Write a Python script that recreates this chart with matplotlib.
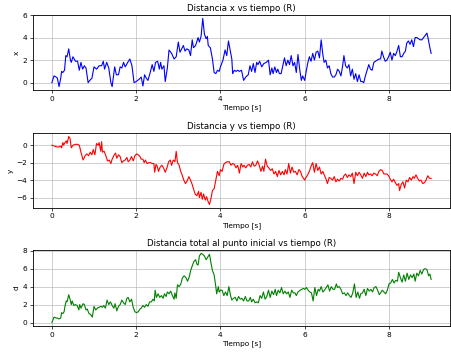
import matplotlib
matplotlib.use("Agg")
import matplotlib.pyplot as plt

# lecturas aproximadas del grafico original
t_x = [0.0, 0.05, 0.1, 0.13, 0.17, 0.21, 0.23, 0.26, 0.3, 0.33, 0.36, 0.4, 0.44, 0.46, 0.5, 0.56, 0.61, 0.65, 0.69, 0.73,
       0.77, 0.81, 0.86, 0.9, 0.95, 1.0, 1.06, 1.12, 1.18, 1.22, 1.25, 1.3, 1.35, 1.4, 1.43, 1.49, 1.53, 1.58, 1.62, 1.66,
       1.7, 1.74, 1.8, 1.85, 1.9, 1.95, 2.0, 2.07, 2.12, 2.16, 2.2, 2.24, 2.28, 2.34, 2.38, 2.42, 2.46, 2.51, 2.55, 2.58,
       2.61, 2.66, 2.69, 2.74, 2.78, 2.84, 2.9, 2.95, 3.0, 3.04, 3.08, 3.12, 3.16, 3.2, 3.25, 3.29, 3.33, 3.36, 3.41, 3.47,
       3.5, 3.54, 3.58, 3.62, 3.66, 3.69, 3.71, 3.76, 3.81, 3.85, 3.89, 3.93, 3.97, 4.0, 4.06, 4.11, 4.15, 4.19, 4.23, 4.27,
       4.29, 4.33, 4.37, 4.41, 4.45, 4.5, 4.55, 4.6, 4.66, 4.7, 4.74, 4.78, 4.82, 4.86, 4.89, 4.93, 4.98, 5.03, 5.09, 5.14,
       5.18, 5.22, 5.25, 5.29, 5.33, 5.36, 5.4, 5.44, 5.48, 5.52, 5.56, 5.6, 5.64, 5.68, 5.72, 5.76, 5.8, 5.84, 5.88, 5.92,
       5.95, 6.0, 6.03, 6.07, 6.11, 6.15, 6.19, 6.23, 6.27, 6.31, 6.35, 6.39, 6.43, 6.46, 6.5, 6.54, 6.58, 6.62, 6.66, 6.7,
       6.74, 6.78, 6.82, 6.86, 6.9, 6.93, 6.97, 7.01, 7.05, 7.09, 7.13, 7.17, 7.21, 7.25, 7.29, 7.33, 7.37, 7.4, 7.44, 7.48,
       7.52, 7.56, 7.6, 7.64, 7.68, 7.72, 7.76, 7.8, 7.83, 7.87, 7.91, 7.95, 7.99, 8.03, 8.07, 8.11, 8.15, 8.19, 8.23, 8.27,
       8.31, 8.35, 8.39, 8.42, 8.46, 8.5, 8.54, 8.58, 8.62, 8.66, 8.7, 8.74, 8.78, 8.82, 8.86, 8.9, 8.93, 8.97, 9.0]
x = [0.0, 0.6, 0.5, 0.4, -0.35, 0.4, 1.0, 0.9, 1.1, 2.4, 2.3, 3.0, 2.0, 1.8, 2.3, 1.9, 1.9, 1.1, 1.8, 1.2,
     1.5, 1.3, 0.0, 0.2, 0.4, 1.4, 1.2, 1.5, 1.5, 1.9, 1.2, 1.8, 1.3, 0.0, -0.35, 1.4, 0.7, 0.7, 1.4, 1.3,
     1.8, 1.4, 1.8, 2.1, 1.5, 0.0, 0.1, 0.3, 0.5, -0.3, 0.7, 0.4, 0.2, 1.0, 1.6, 1.0, 1.8, 1.9, 1.2, 1.8,
     1.2, 1.5, 0.1, 1.3, 2.9, 2.6, 2.1, 2.3, 3.6, 2.7, 3.0, 3.3, 2.8, 3.0, 2.9, 2.4, 3.8, 3.1, 3.3, 4.0,
     3.6, 4.1, 5.7, 4.3, 3.9, 4.1, 3.3, 3.1, 2.1, 0.9, 0.8, 1.1, 1.0, 1.4, 2.0, 2.9, 2.4, 3.7, 2.9, 2.1,
     0.8, 1.1, 1.0, 1.1, 1.0, 1.1, 0.2, 0.5, 0.7, 1.5, 1.0, 1.7, 0.9, 1.8, 1.6, 1.9, 1.4, 1.7, 1.8, 2.0,
     0.7, 1.3, 0.8, 1.4, 0.9, 1.2, 0.8, 0.8, 1.5, 2.2, 1.5, 2.0, 1.6, 2.4, 1.5, 1.8, 0.9, 2.5, 1.2, 0.2,
     0.6, 0.2, 0.9, 1.7, 2.3, 1.9, 2.6, 2.0, 2.7, 2.8, 2.2, 3.8, 2.5, 1.8, 2.0, 1.3, 1.5, 0.8, 0.5, 0.5,
     0.7, 1.2, 1.0, 0.6, 1.5, 2.4, 1.5, 1.3, 1.6, 0.6, 1.2, 0.3, 0.8, 0.1, 0.7, 0.1, 0.1, 0.0, 0.6, 1.1,
     1.6, 1.2, 1.1, 1.8, 1.9, 2.0, 2.1, 2.1, 2.8, 2.3, 1.9, 2.0, 2.3, 2.7, 2.0, 2.6, 2.4, 2.8, 3.3, 2.3,
     2.3, 2.6, 2.8, 3.5, 3.7, 3.4, 3.8, 3.2, 4.0, 4.0, 3.9, 3.8, 3.8, 4.0, 4.2, 4.4, 3.9, 3.1, 2.6]

t_y = [0.0, 0.06, 0.12, 0.17, 0.21, 0.23, 0.26, 0.28, 0.31, 0.34, 0.36, 0.4, 0.43, 0.46, 0.5, 0.56, 0.61, 0.65, 0.69, 0.74,
       0.79, 0.83, 0.87, 0.91, 0.95, 0.98, 1.02, 1.06, 1.1, 1.12, 1.16, 1.18, 1.2, 1.24, 1.28, 1.32, 1.36, 1.4, 1.43, 1.47,
       1.51, 1.54, 1.58, 1.62, 1.66, 1.7, 1.74, 1.78, 1.81, 1.85, 1.89, 1.93, 1.97, 2.01, 2.05, 2.09, 2.12, 2.16, 2.19, 2.22,
       2.26, 2.3, 2.34, 2.38, 2.42, 2.44, 2.47, 2.5, 2.53, 2.57, 2.61, 2.65, 2.69, 2.73, 2.77, 2.81, 2.84, 2.88, 2.92, 2.95,
       2.98, 3.02, 3.05, 3.09, 3.13, 3.17, 3.21, 3.25, 3.29, 3.33, 3.36, 3.4, 3.44, 3.48, 3.5, 3.54, 3.57, 3.6, 3.64, 3.67,
       3.71, 3.74, 3.78, 3.81, 3.85, 3.89, 3.93, 3.97, 4.0, 4.04, 4.08, 4.12, 4.16, 4.21, 4.25, 4.29, 4.33, 4.37, 4.41, 4.45,
       4.49, 4.53, 4.56, 4.6, 4.64, 4.68, 4.72, 4.76, 4.8, 4.84, 4.88, 4.92, 4.96, 5.0, 5.03, 5.07, 5.11, 5.15, 5.19, 5.23,
       5.27, 5.31, 5.35, 5.39, 5.43, 5.47, 5.51, 5.54, 5.58, 5.62, 5.66, 5.7, 5.74, 5.78, 5.82, 5.86, 5.9, 5.94, 6.0, 6.03,
       6.07, 6.11, 6.15, 6.19, 6.23, 6.27, 6.31, 6.35, 6.39, 6.43, 6.47, 6.5, 6.54, 6.58, 6.62, 6.66, 6.7, 6.74, 6.78, 6.82,
       6.86, 6.9, 6.93, 6.97, 7.01, 7.05, 7.09, 7.13, 7.17, 7.21, 7.25, 7.29, 7.33, 7.37, 7.41, 7.45, 7.49, 7.52, 7.56, 7.6,
       7.64, 7.68, 7.72, 7.76, 7.8, 7.84, 7.88, 7.92, 7.95, 7.99, 8.03, 8.07, 8.11, 8.15, 8.19, 8.23, 8.25, 8.29, 8.33, 8.37,
       8.41, 8.45, 8.49, 8.53, 8.57, 8.6, 8.64, 8.68, 8.72, 8.76, 8.8, 8.84, 8.88, 8.92, 8.96, 9.0]
y = [0.0, -0.1, -0.2, -0.2, -0.1, -0.3, 0.3, 0.0, 0.3, 0.5, 0.2, 1.0, 0.8, -0.3, 0.0, 0.1, 0.1, 0.0, -0.8, -1.7,
     -1.2, -1.0, -1.2, -0.8, -1.1, -0.5, -1.1, 0.2, 0.0, 0.3, -0.7, 0.4, -0.8, -0.7, -1.2, -1.8, -1.7, -2.1, -1.6, -1.2,
     -0.9, -1.5, -1.1, -1.3, -2.0, -1.8, -1.7, -1.4, -1.9, -1.7, -1.3, -1.8, -1.2, -1.0, -1.1, -1.3, -1.6, -1.6, -2.0, -1.7,
     -2.1, -2.0, -2.0, -2.1, -2.1, -3.1, -2.2, -2.4, -3.0, -2.5, -2.3, -2.6, -3.1, -2.6, -1.9, -1.7, -2.3, -1.7, -1.9, -0.7,
     -2.0, -2.3, -2.9, -3.4, -4.0, -4.4, -4.1, -3.6, -4.0, -4.5, -5.0, -5.6, -5.8, -5.3, -6.0, -5.4, -6.2, -5.6, -6.3, -5.9,
     -6.5, -6.8, -6.0, -5.2, -5.0, -4.0, -3.0, -3.5, -2.8, -3.0, -2.2, -2.0, -1.9, -1.9, -2.3, -2.1, -2.2, -2.6, -2.3, -3.2,
     -2.1, -2.5, -2.3, -2.6, -2.3, -2.2, -2.5, -1.9, -2.4, -2.3, -1.8, -2.3, -3.0, -2.4, -3.0, -1.6, -2.4, -2.6, -2.9, -2.7,
     -3.3, -3.0, -3.6, -2.9, -3.4, -3.0, -3.4, -2.8, -3.3, -2.1, -3.2, -2.5, -3.1, -3.0, -3.4, -2.8, -3.0, -3.6, -4.0, -3.7,
     -3.4, -3.0, -2.4, -2.0, -3.1, -2.1, -2.9, -2.5, -3.3, -3.0, -3.5, -3.8, -4.4, -3.7, -3.8, -4.0, -3.6, -4.2, -3.9, -4.1,
     -3.8, -3.9, -3.5, -3.3, -3.7, -3.4, -3.6, -3.2, -4.4, -3.1, -3.5, -3.1, -3.4, -3.8, -3.2, -3.6, -3.1, -3.4, -3.3, -3.5,
     -3.2, -3.3, -3.5, -3.0, -2.8, -2.9, -3.3, -3.3, -3.3, -3.5, -3.9, -4.2, -3.9, -4.3, -4.6, -4.4, -5.2, -4.5, -4.2, -4.9,
     -4.0, -4.2, -3.7, -4.0, -3.6, -3.8, -3.4, -3.8, -4.1, -4.0, -4.4, -4.3, -4.0, -3.5, -3.8, -3.8]

t_d = [0.0, 0.05, 0.1, 0.13, 0.17, 0.21, 0.23, 0.26, 0.29, 0.31, 0.34, 0.36, 0.4, 0.43, 0.46, 0.48, 0.52, 0.56, 0.6, 0.64,
       0.66, 0.69, 0.74, 0.77, 0.81, 0.84, 0.88, 0.92, 0.96, 1.0, 1.04, 1.08, 1.12, 1.16, 1.2, 1.23, 1.27, 1.31, 1.35, 1.39,
       1.43, 1.47, 1.5, 1.54, 1.58, 1.62, 1.66, 1.7, 1.74, 1.78, 1.81, 1.85, 1.89, 1.93, 1.97, 2.01, 2.05, 2.09, 2.12, 2.16,
       2.2, 2.24, 2.28, 2.32, 2.36, 2.4, 2.43, 2.45, 2.48, 2.52, 2.56, 2.6, 2.64, 2.67, 2.71, 2.74, 2.78, 2.82, 2.86, 2.9,
       2.92, 2.95, 2.98, 3.02, 3.06, 3.1, 3.14, 3.18, 3.22, 3.26, 3.3, 3.33, 3.37, 3.41, 3.44, 3.47, 3.5, 3.54, 3.58, 3.62,
       3.66, 3.7, 3.74, 3.78, 3.81, 3.85, 3.89, 3.91, 3.95, 3.97, 4.0, 4.04, 4.08, 4.12, 4.16, 4.2, 4.24, 4.27, 4.31, 4.35,
       4.39, 4.43, 4.47, 4.51, 4.55, 4.59, 4.63, 4.67, 4.71, 4.74, 4.78, 4.82, 4.86, 4.9, 4.94, 4.98, 5.02, 5.06, 5.1, 5.14,
       5.18, 5.22, 5.26, 5.3, 5.33, 5.37, 5.41, 5.45, 5.49, 5.53, 5.57, 5.61, 5.65, 5.69, 5.73, 5.77, 5.8, 5.84, 5.89, 5.93,
       5.97, 6.0, 6.04, 6.08, 6.12, 6.16, 6.2, 6.24, 6.28, 6.32, 6.35, 6.39, 6.43, 6.47, 6.51, 6.55, 6.59, 6.63, 6.67, 6.71,
       6.75, 6.78, 6.82, 6.86, 6.9, 6.94, 6.98, 7.02, 7.06, 7.1, 7.14, 7.18, 7.22, 7.26, 7.3, 7.33, 7.37, 7.41, 7.45, 7.49,
       7.53, 7.57, 7.61, 7.65, 7.69, 7.73, 7.77, 7.8, 7.84, 7.88, 7.92, 7.96, 8.0, 8.04, 8.08, 8.12, 8.16, 8.2, 8.23, 8.27,
       8.31, 8.35, 8.39, 8.43, 8.47, 8.51, 8.55, 8.59, 8.62, 8.66, 8.7, 8.74, 8.78, 8.82, 8.86, 8.9, 8.94, 8.97, 9.0]
d = [0.0, 0.6, 0.5, 0.5, 0.4, 0.5, 1.1, 1.0, 1.2, 1.8, 2.4, 2.3, 3.1, 2.6, 2.0, 2.4, 1.9, 2.0, 1.9, 1.4,
     2.0, 1.6, 2.1, 2.0, 1.4, 1.5, 1.0, 0.9, 0.6, 1.8, 1.4, 1.6, 1.7, 1.8, 1.7, 1.9, 1.6, 2.5, 2.0, 2.3,
     1.9, 1.6, 2.1, 1.3, 1.8, 2.0, 2.5, 2.2, 2.0, 2.7, 2.8, 2.3, 2.6, 1.7, 1.2, 1.1, 1.2, 1.5, 1.6, 1.9,
     1.7, 2.0, 1.8, 2.3, 2.3, 2.6, 2.4, 3.6, 2.8, 3.2, 2.8, 3.0, 2.7, 3.2, 2.9, 3.4, 3.2, 3.5, 3.0, 2.6,
     3.3, 2.7, 4.2, 4.0, 4.3, 5.0, 5.2, 5.0, 4.6, 5.1, 5.9, 6.3, 6.8, 7.0, 6.5, 6.4, 7.4, 7.7, 7.6, 7.4,
     7.0, 7.3, 7.6, 6.5, 5.8, 5.3, 4.0, 3.2, 4.0, 3.4, 3.6, 3.6, 3.0, 3.4, 3.0, 4.0, 3.0, 2.5, 2.7, 2.8,
     2.4, 2.9, 2.6, 2.7, 2.4, 2.9, 2.4, 2.4, 2.8, 2.3, 2.6, 2.2, 2.3, 2.2, 3.0, 2.7, 3.4, 2.6, 2.9, 3.6,
     2.8, 3.5, 3.1, 3.7, 3.0, 3.6, 3.3, 3.9, 3.2, 3.5, 3.2, 3.4, 2.8, 3.6, 3.3, 3.3, 3.0, 3.4, 3.6, 3.7,
     3.8, 3.7, 3.9, 3.6, 3.4, 3.3, 2.4, 3.9, 3.0, 3.7, 3.5, 4.0, 3.4, 3.6, 3.9, 4.2, 3.5, 4.0, 3.7, 3.7,
     4.3, 3.9, 4.0, 3.7, 3.2, 3.3, 3.0, 3.3, 3.0, 2.8, 3.3, 4.3, 2.8, 3.4, 2.7, 3.2, 3.3, 3.7, 3.0, 3.8,
     3.5, 3.7, 3.4, 3.9, 4.0, 3.6, 3.1, 3.3, 3.6, 3.4, 3.2, 3.6, 4.3, 4.4, 4.8, 4.4, 4.7, 4.6, 5.6, 5.0,
     4.5, 5.3, 4.6, 5.5, 4.8, 5.3, 5.0, 5.4, 4.6, 5.5, 5.2, 5.8, 5.4, 5.9, 6.0, 5.9, 5.2, 5.4, 4.8]

titles = ["Distancia x vs tiempo (R)", "Distancia y vs tiempo (R)",
          "Distancia total al punto inicial vs tiempo (R)"]
ylabels = ["x", "y", "d"]
colors = ["blue", "red", "green"]

plt.rcParams["font.size"] = 5.3

fig = plt.figure(figsize=(4.51, 3.53), dpi=100)
positions = [[0.073, 0.745, 0.925, 0.2125],
             [0.073, 0.411, 0.925, 0.212],
             [0.073, 0.0765, 0.925, 0.2155]]

series = [(t_x, x), (t_y, y), (t_d, d)]
for i in range(3):
    ax = fig.add_axes(positions[i])
    tt, vv = series[i]
    ax.plot(tt, vv, color=colors[i], linewidth=0.8)
    ax.set_title(titles[i], fontsize=6.2, pad=3)
    ax.set_xlabel("Tiempo [s]", labelpad=2)
    ax.set_ylabel(ylabels[i], labelpad=2)
    ax.set_xticks([0, 2, 4, 6, 8])
    ax.grid(True, linewidth=0.6, alpha=0.7)
    ax.tick_params(length=2, width=0.5, pad=2)
    for s in ax.spines.values():
        s.set_linewidth(0.6)

fig.savefig("out.png", dpi=100)
